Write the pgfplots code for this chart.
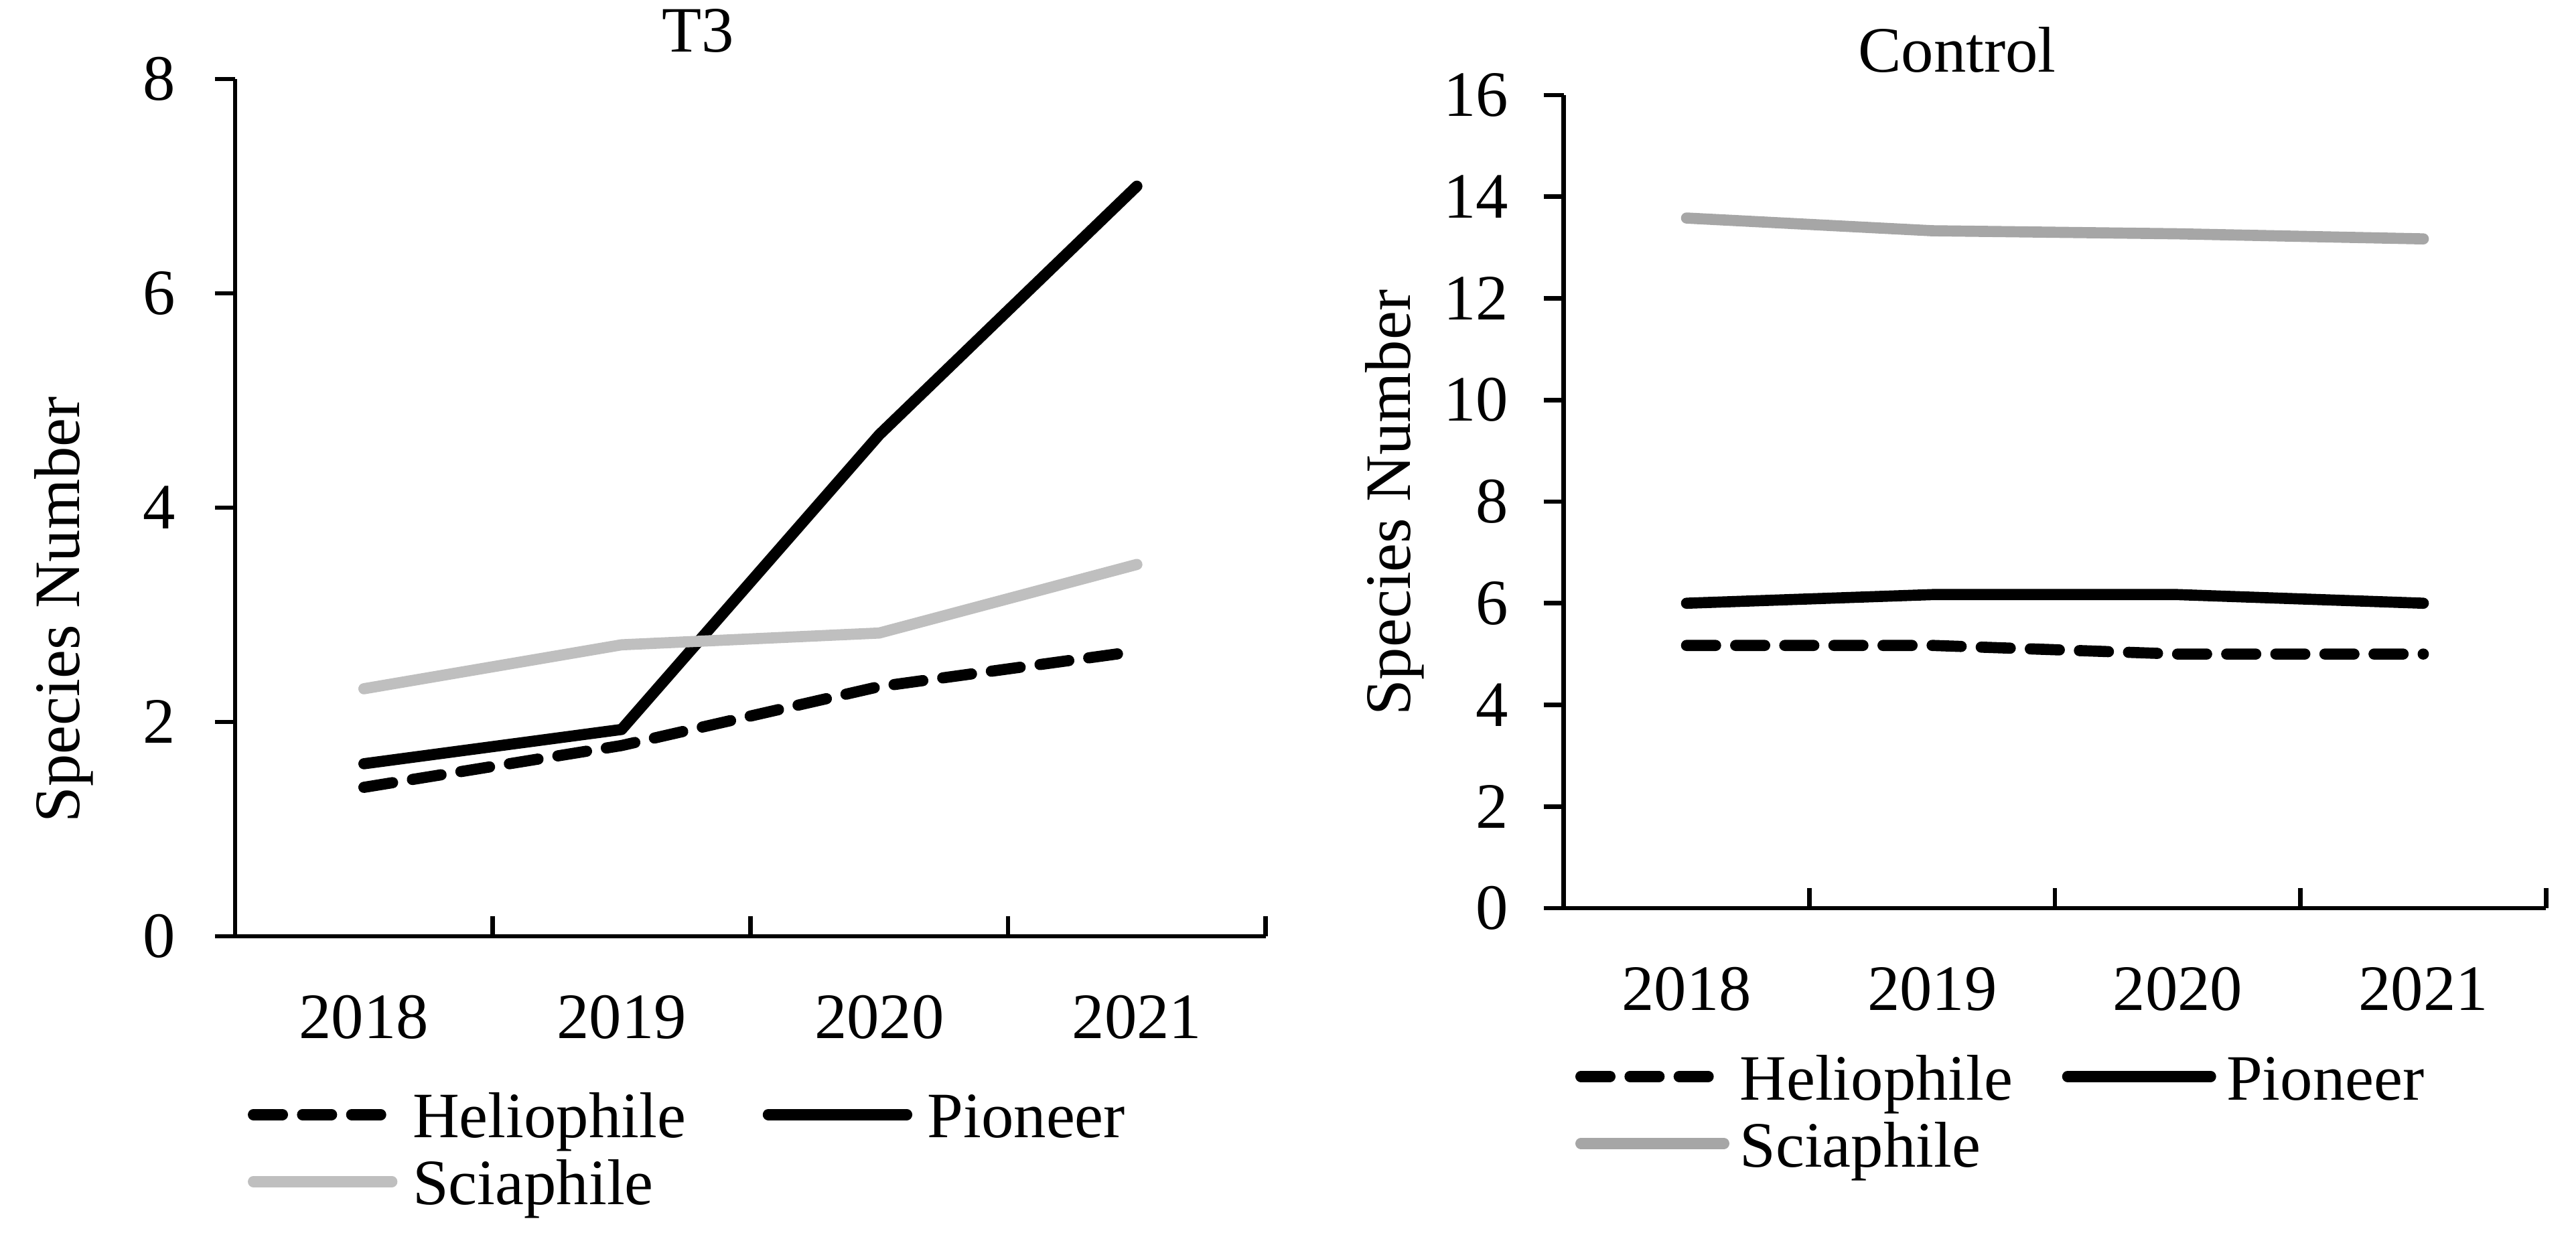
\documentclass[border=0pt]{standalone}
\usepackage{fontspec}
\setmainfont{Liberation Serif}
\usepackage{pgfplots}
\pgfplotsset{compat=1.18}
\definecolor{lgray}{HTML}{BFBFBF}
\definecolor{mgray}{HTML}{A6A6A6}
\newcommand{\fs}{\fontsize{14.5}{16}\selectfont}
\pgfplotsset{
 myaxis/.style={
  scale only axis,
  xmin=-0.5, xmax=3.5,
  ymin=0,
  axis x line*=bottom, axis y line*=left,
  axis line style={line width=1pt, -},
  xtick={0.5,1.5,2.5,3.5},
  xticklabels={},
  xtick style={yshift=4.5pt},
  extra x ticks={0,1,2,3},
  extra x tick labels={2018,2019,2020,2021},
  extra x tick style={major tick length=0pt, xticklabel style={yshift=-9.7pt}},
  tick align=outside,
  major tick length=4.5pt,
  tick style={line width=1pt, black},
  font=\fs,
  tick label style={font=\fs},
  /pgf/number format/assume math mode=true,
  ylabel={Species Number},
  ylabel style={font=\fs, anchor=center},
  legend columns=2,
  legend cell align=left,
  legend style={draw=none, fill=none, inner sep=0pt, anchor=north west, font=\fs,
    row sep=2pt,
    nodes={inner sep=0pt, text height=10pt, text depth=3pt}},
 }
}
\begin{document}
\begin{tikzpicture}
\useasboundingbox (0pt,0pt) rectangle (576.9pt,277.5pt);
\begin{axis}[myaxis,
  at={(52.65pt,67.8pt)}, anchor=south west,
  width=230.8pt, height=192.0pt,
  ymax=8, ytick={0,2,4,6,8},
  yticklabel style={xshift=-5.3pt},
  ylabel style={at={(axis description cs:-0.166,0.381)}},
  legend style={at={(0.0115,-0.182)},
    /tikz/every odd column/.append style={column sep=3.4pt},
    /tikz/every even column/.append style={column sep=17.2pt}},
  legend image code/.code={\draw[#1, line cap=round] (0pt,1.7pt) -- (31pt,1.7pt);},
]
\addplot[black, line width=2.5pt, line cap=round, dash pattern=on 6.5pt off 4.5pt] coordinates {(0,1.39) (1,1.78) (2,2.33) (3,2.66)};
\addlegendentry{Heliophile}
\addplot[black, line width=2.5pt, line cap=round, line join=round] coordinates {(0,1.61) (1,1.93) (2,4.68) (3,7.0)};
\addlegendentry{Pioneer}
\addplot[lgray, line width=2.5pt, line cap=round, line join=round] coordinates {(0,2.31) (1,2.72) (2,2.83) (3,3.47)};
\addlegendentry{Sciaphile}
\end{axis}
\begin{axis}[myaxis,
  at={(350.2pt,74.1pt)}, anchor=south west,
  width=220.0pt, height=182.1pt,
  ymax=16, ytick={0,2,...,16},
  yticklabel style={xshift=-4.4pt},
  ylabel style={at={(axis description cs:-0.172,0.4986)}},
  legend style={at={(0.0109,-0.1796)},
    /tikz/every odd column/.append style={column sep=2.3pt},
    /tikz/every even column/.append style={column sep=11pt}},
  legend image code/.code={\draw[#1, line cap=round] (0pt,1.7pt) -- (32pt,1.7pt);},
]
\addplot[black, line width=2.5pt, line cap=round, dash pattern=on 6.5pt off 4.5pt] coordinates {(0,5.17) (1,5.17) (2,5.0) (3,5.0)};
\addlegendentry{Heliophile}
\addplot[black, line width=2.5pt, line cap=round, line join=round] coordinates {(0,6.0) (1,6.17) (2,6.17) (3,6.0)};
\addlegendentry{Pioneer}
\addplot[mgray, line width=2.5pt, line cap=round, line join=round] coordinates {(0,13.58) (1,13.33) (2,13.27) (3,13.17)};
\addlegendentry{Sciaphile}
\end{axis}
\node[anchor=base, font=\fs] at (156.3pt,265.8pt) {T3};
\node[anchor=base, font=\fs] at (438.3pt,261.4pt) {Control};
\end{tikzpicture}
\end{document}
